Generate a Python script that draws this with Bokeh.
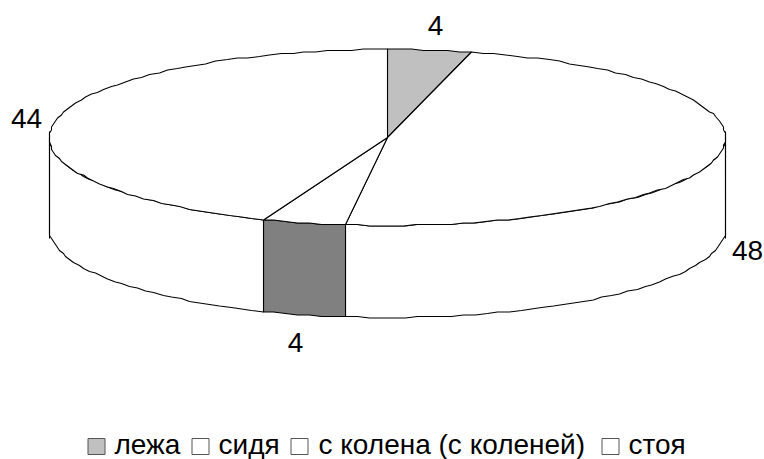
import numpy as np
from bokeh.plotting import figure
from bokeh.models import Range1d
from bokeh.core.properties import value
from bokeh.embed import file_html
from bokeh.resources import INLINE

categories = ["лежа", "сидя", "с колена (с коленей)", "стоя"]
values = [4, 48, 4, 44]
top_colors = ["#c0c0c0", "#ffffff", "#ffffff", "#ffffff"]
side_colors = ["#c0c0c0", "#ffffff", "#808080", "#ffffff"]
label_text = ["4", "48", "4", "44"]

FONT = value("Liberation Sans")
CX, CY, RX, RY, DEPTH = 387.0, 137.0, 338.0, 88.0, 92.0

p = figure(width=764, height=459, output_backend="svg", toolbar_location=None,
           x_range=Range1d(0, 764), y_range=Range1d(459, 0),
           min_border=0, outline_line_color=None, background_fill_color="white")
p.axis.visible = False
p.grid.visible = False


def rim(a0, a1, dy=0.0):
    """Outline points (angles clockwise from 12 o'clock), coarsely snapped like the source's faceted ellipse."""
    n = max(2, int(abs(a1 - a0) / 0.035) + 1)
    t = np.linspace(a0, a1, n)
    x = RX * np.sin(t)
    y = -RY * np.cos(t)
    return CX + np.round(x / 2) * 2, CY + dy + np.round(y / 1.5) * 1.5


edges = np.concatenate([[0], np.cumsum(values)]) / sum(values) * 2 * np.pi

# front walls
wx, wy, wc = [], [], []
for i in range(len(values)):
    a0, a1 = max(edges[i], np.pi / 2), min(edges[i + 1], 3 * np.pi / 2)
    if a1 <= a0:
        continue
    xt, yt = rim(a0, a1)
    xb, yb = rim(a0, a1, DEPTH)
    wx.append(list(xt) + list(xb[::-1]))
    wy.append(list(yt) + list(yb[::-1]))
    wc.append(side_colors[i])
p.patches(wx, wy, fill_color=wc, line_color="#000000", line_width=1.1)

# top slices
tx, ty = [], []
for i in range(len(values)):
    xr, yr = rim(edges[i], edges[i + 1])
    tx.append([CX] + list(xr))
    ty.append([CY] + list(yr))
p.patches(tx, ty, fill_color=top_colors, line_color="#000000", line_width=1.1)

# tall vertical ends of the cylinder
for sx in (CX - RX, CX + RX):
    p.line([sx, sx], [CY - 6, CY + DEPTH + 9], line_color="#000000", line_width=1.1)

# data labels
p.text([435, 747, 295, 26], [25, 250, 342, 118], text=label_text, text_font=FONT,
       text_font_size="28px", text_color="#000000", text_align="center", text_baseline="middle")

# legend
swatch_x = [96, 200, 299, 610]
text_x = [114, 218, 318, 628]
p.rect(swatch_x, [446] * 4, width=17, height=16, fill_color=top_colors,
       line_color="#555555", line_width=1)
p.text(text_x, [444] * 4, text=categories, text_font=FONT, text_font_size="28px",
       text_color="#000000", text_align="left", text_baseline="middle")

open("out.html", "w").write(file_html(p, INLINE))
